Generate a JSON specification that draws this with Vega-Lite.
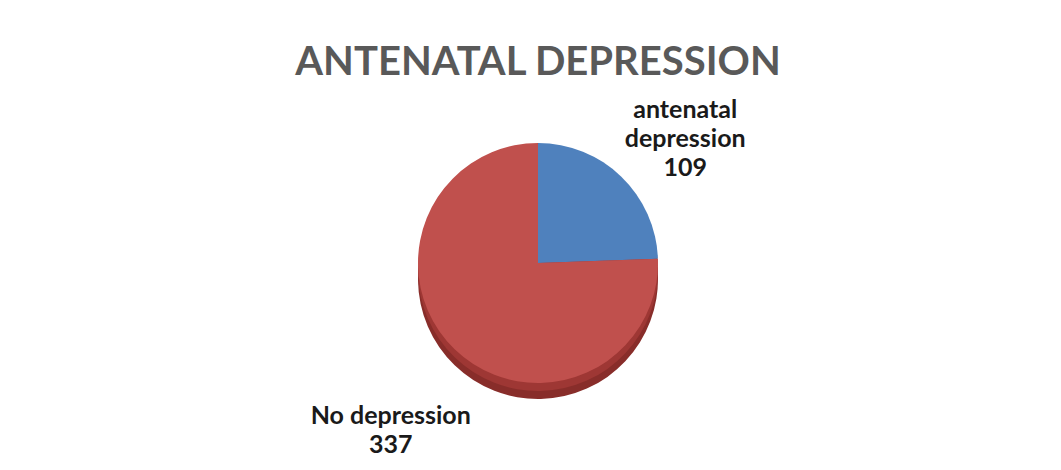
{
  "$schema": "https://vega.github.io/schema/vega-lite/v6.json",
  "width": 1046,
  "height": 328,
  "padding": {"left": 15, "right": 0, "top": 43, "bottom": 0},
  "background": "white",
  "title": {
    "text": "ANTENATAL DEPRESSION",
    "font": "Lato",
    "fontSize": 40,
    "fontWeight": "bold",
    "color": "#595959",
    "anchor": "middle",
    "offset": 15
  },
  "config": {"view": {"stroke": null}},
  "data": {
    "values": [
      {"group": "antenatal depression", "count": 109, "wrap": ["antenatal", "depression"]},
      {"group": "No depression", "count": 337, "wrap": ["No depression"]}
    ]
  },
  "transform": [
    {
      "calculate": "length(datum.wrap) == 2 ? [datum.wrap[0], datum.wrap[1], format(datum.count, 'd')] : [datum.wrap[0], format(datum.count, 'd')]",
      "as": "label"
    }
  ],
  "encoding": {
    "theta": {"field": "count", "type": "quantitative", "stack": true},
    "order": {"field": "count", "type": "quantitative", "sort": "ascending"}
  },
  "layer": [
    {
      "mark": {"type": "arc", "outerRadius": 120, "yOffset": 16, "color": "#882d2a"}
    },
    {
      "mark": {"type": "arc", "outerRadius": 120, "yOffset": 8, "color": "#9e3734"}
    },
    {
      "mark": {"type": "arc", "outerRadius": 120},
      "encoding": {
        "color": {
          "field": "group",
          "type": "nominal",
          "scale": {"domain": ["antenatal depression", "No depression"], "range": ["#4f81bd", "#c0504d"]},
          "legend": null
        }
      }
    },
    {
      "mark": {
        "type": "text",
        "radius": 212,
        "font": "Lato",
        "fontSize": 25,
        "fontWeight": "bold",
        "lineHeight": 29,
        "color": "#1a1a1a",
        "align": "center",
        "baseline": "middle"
      },
      "encoding": {"text": {"field": "label"}}
    }
  ]
}
